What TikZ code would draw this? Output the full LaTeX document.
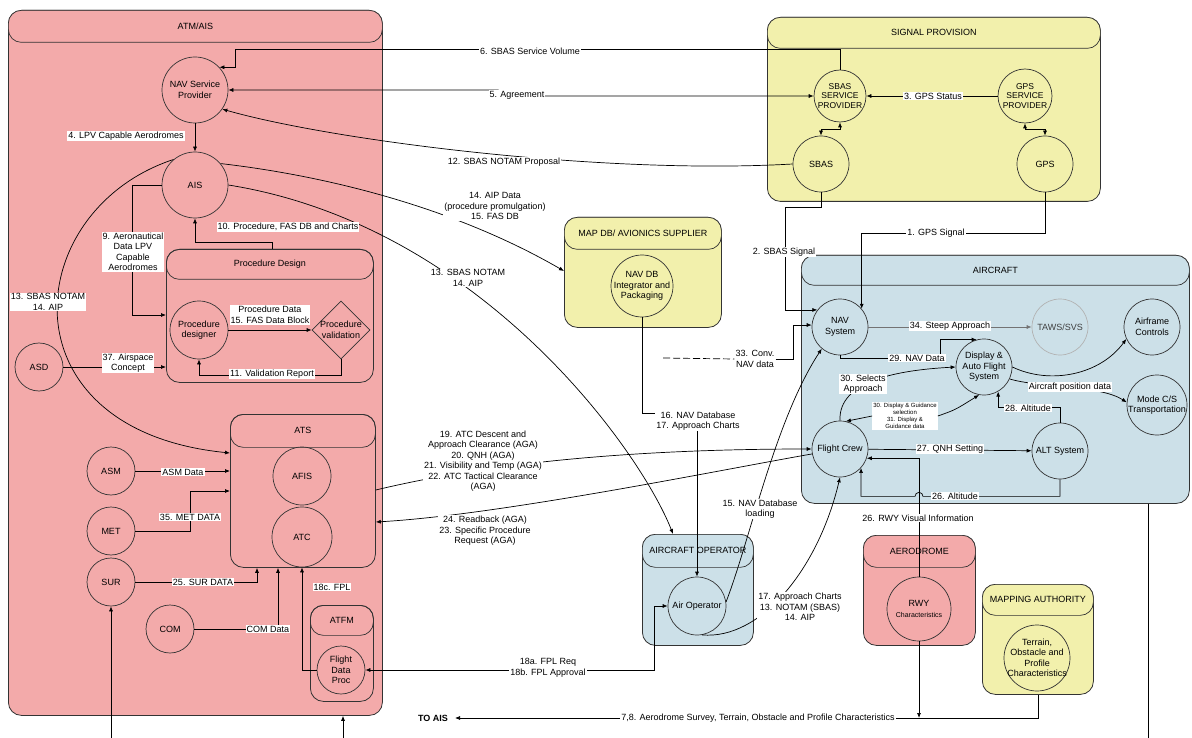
\documentclass[tikz,border=0pt]{standalone}
\usepackage{fontspec}
\setmainfont{Liberation Sans}
\usetikzlibrary{shapes.geometric,arrows.meta,calc}
\definecolor{redf}{RGB}{243,170,170}
\definecolor{yelf}{RGB}{242,240,172}
\definecolor{bluf}{RGB}{204,224,232}
\begin{document}
\begin{tikzpicture}[x=1pt,y=-1pt,
  font=\fontsize{9}{10.5}\selectfont,
  cont/.style={draw=black!80, line width=0.8pt, rounded corners=13pt, anchor=north west, inner sep=0pt},
  hdr/.style={draw=black!80, line width=0.7pt, rounded corners=13pt, anchor=north west, inner sep=0pt},
  circ/.style={draw=black!80, line width=0.7pt, circle, inner sep=0pt, minimum size=#1},
  ct/.style={align=center, inner sep=0pt},
  lab/.style={fill=white, inner sep=1pt, align=center},
  con/.style={draw=black, line width=0.7pt},
  >={Latex[length=5pt,width=4pt]}
]
\useasboundingbox[fill=white] (0,0) rectangle (1192,738);

% ---------- containers ----------
\node[cont, fill=redf, minimum width=374pt, minimum height=705pt] (atm) at (8,10) {};
\node[hdr, fill=redf, minimum width=374pt, minimum height=32pt] (atmh) at (8,10) {ATM/AIS};
\node[cont, minimum width=207pt, minimum height=133pt] (pd) at (166,249) {};
\node[hdr, minimum width=207pt, minimum height=30pt] (pdh) at (166,249) {Procedure Design};
\node[cont, minimum width=145pt, minimum height=153pt] (ats) at (230,414) {};
\node[hdr, minimum width=145pt, minimum height=33pt] (atsh) at (230,414) {ATS};
\node[cont, minimum width=63pt, minimum height=96pt] (atfm) at (310,605) {};
\node[hdr, minimum width=63pt, minimum height=30pt] (atfmh) at (310,605) {ATFM};

\node[cont, fill=yelf, minimum width=333pt, minimum height=184pt] (sig) at (767,17) {};
\node[hdr, fill=yelf, minimum width=333pt, minimum height=31pt] (sigh) at (767,17) {SIGNAL PROVISION};
\node[cont, fill=yelf, minimum width=157pt, minimum height=110pt] (mapdb) at (564,217) {};
\node[hdr, fill=yelf, minimum width=157pt, minimum height=32pt] (mapdbh) at (564,217) {MAP DB/ AVIONICS SUPPLIER};
\node[cont, fill=bluf, minimum width=388pt, minimum height=248pt] (acft) at (801,255) {};
\node[hdr, fill=bluf, minimum width=388pt, minimum height=30pt] (acfth) at (801,255) {AIRCRAFT};
\node[cont, fill=bluf, minimum width=111pt, minimum height=111pt] (acop) at (642,534) {};
\node[hdr, fill=bluf, minimum width=111pt, minimum height=33pt] (acoph) at (642,534) {AIRCRAFT OPERATOR};
\node[cont, fill=redf, minimum width=112pt, minimum height=110pt] (aero) at (863,535) {};
\node[hdr, fill=redf, minimum width=112pt, minimum height=32pt] (aeroh) at (863,535) {AERODROME};
\node[cont, fill=yelf, minimum width=111pt, minimum height=110pt] (mapa) at (982,584) {};
\node[hdr, fill=yelf, minimum width=111pt, minimum height=31pt] (mapah) at (982,584) {MAPPING AUTHORITY};

% ---------- processes ----------
\node[circ=66pt, label={[ct]center:{NAV Service\\Provider}}] (navsp) at (195,90) {};
\node[circ=66pt, label={[ct]center:AIS}] (ais) at (195,185) {};
\node[circ=58pt, label={[ct]center:{Procedure\\designer}}] (pdes) at (199,330) {};
\node[draw=black!80, line width=0.7pt, diamond, inner sep=0pt, minimum width=58pt, minimum height=58pt, label={[ct]center:{Procedure\\validation}}] (pval) at (341,330) {};
\node[circ=48pt, label={[ct]center:ASD}] (asd) at (39,367) {};
\node[circ=48pt, label={[ct]center:ASM}] (asm) at (111,471) {};
\node[circ=48pt, label={[ct]center:MET}] (met) at (111,531) {};
\node[circ=48pt, label={[ct]center:SUR}] (sur) at (111,582) {};
\node[circ=48pt, label={[ct]center:COM}] (com) at (170,629) {};
\node[circ=58pt, label={[ct]center:AFIS}] (afis) at (302,476) {};
\node[circ=60pt, label={[ct]center:ATC}] (atc) at (302,537) {};
\node[circ=48pt, label={[ct]center:{Flight\\Data\\Proc}}] (fdp) at (341,670) {};
\node[circ=52pt, label={[ct,font=\fontsize{8.5}{9.5}\selectfont]center:{SBAS\\SERVICE\\PROVIDER}}] (sbassp) at (840,96) {};
\node[circ=54pt, label={[ct,font=\fontsize{8.5}{9.5}\selectfont]center:{GPS\\SERVICE\\PROVIDER}}] (gpssp) at (1025,96) {};
\node[circ=56pt, label={[ct]center:SBAS}] (sbas) at (821,164) {};
\node[circ=56pt, label={[ct]center:GPS}] (gps) at (1045,164) {};
\node[circ=62pt, label={[ct]center:{NAV DB\\Integrator and\\Packaging}}] (navdb) at (642,286) {};
\node[circ=56pt, label={[ct]center:{NAV\\System}}] (navsys) at (840,327) {};
\node[circ=56pt, draw=gray!60, label={[ct,text=black!75]center:TAWS/SVS}] (taws) at (1060,327) {};
\node[circ=56pt, label={[ct]center:{Airframe\\Controls}}] (afc) at (1152,327) {};
\node[circ=56pt, label={[ct]center:{Display \&\\Auto Flight\\System}}] (disp) at (984,367) {};
\node[circ=60pt, label={[ct]center:{Mode C/S\\Transportation}}] (mode) at (1157,405) {};
\node[circ=56pt, label={[ct]center:Flight Crew}] (crew) at (840,449) {};
\node[circ=56pt, label={[ct]center:ALT System}] (alt) at (1060,451) {};
\node[circ=58pt, label={[ct]center:Air Operator}] (airop) at (697,606) {};
\node[circ=64pt, label={[ct]center:{RWY\\{\fontsize{7}{8}\selectfont Characteristics}}}] (rwy) at (919,609) {};
\node[circ=66pt, label={[ct]center:{Terrain,\\Obstacle and\\Profile\\Characteristics}}] (terr) at (1037,658) {};

% label nodes used as connector ends
\node[lab] (l33) at (755,359) {33. Conv.\\NAV data};
\node[lab, font=\fontsize{6}{7}\selectfont] (l3031) at (905,416) {30. Display \& Guidance\\selection\\31. Display \&\\Guidance data};
\coordinate (c33) at (663,358);
\coordinate (toais) at (455,718);
\coordinate (b1) at (111,738);
\coordinate (b2) at (343,738);
\coordinate (b3) at (1148,738);

% ---------- connectors ----------
\draw[con,->] (navsp) -- (ais);
\draw[con,->] ($(pd.north west)+(106,0)$) |- ($(ais.south)+(0,24)$) -- (ais.south);
\draw[con,->] (ais.west) -- ++(-29,0) |- ($(pd.north west)+(0,66)$);
\draw[con,->] (asd) -- (pd.west |- asd);
\draw[con,->] (pdes) -- (pval);
\draw[con,->] (pval.south) -- ++(0,16) -| (pdes.south);
\draw[con,->] (ais.130) .. controls (20,210) and (0,430) .. ($(ats.north west)+(0,39)$);
\draw[con,->] (asm) -- (asm -| ats.west);
\draw[con,->] (met.east) -- ++(55,0) |- ($(ats.north west)+(0,77)$);
\draw[con,->] (sur.east) -| ($(ats.south west)+(27,0)$);
\draw[con,->] (com.east) -| ($(ats.south west)+(48,0)$);
\draw[con,->] (fdp.west) -| (atc.south);
\draw[con,<->] (fdp.east) -| ($(airop.west)+(-13,0)$) -- (airop.west);
\draw[con,->] (b1) -- (sur.south);
\draw[con,->] (b2) -- (b2 |- atm.south);
\draw[con] (b3 |- acft.south) -- (b3);

\draw[con,->] (sbassp.north) |- ($(navsp.north)+(40,-7)$) |- (navsp.43);
\draw[con,<->] (navsp.east) -- ($(navsp.east)+(270,0)$) -- ($(sbassp.west)+(-316,0)$) -- (sbassp.west);
\draw[con,<-] (navsp.-35) .. controls (330,140) and (600,175) .. (sbas.west);
\draw[con,->] (gpssp) -- (sbassp);
\draw[con,<->] (sbas.north) -- ++(0,-6) -| (sbassp.south);
\draw[con,<->] (gps.north) -- ++(0,-6) -| (gpssp.south);
\draw[con,->] (sbas.south) -- ++(0,15) -| ($(navsys.143)+(-32,0)$) -- (navsys.143);
\draw[con,->] (gps.south) -- ++(0,41) -| (navsys.40);

\draw[con,->] (ais.40) .. controls (320,175) and (450,205) .. ($(mapdb.north west)+(0,54)$);
\draw[con,->] (ais.east) .. controls (480,225) and (640,450) .. ($(acop.north west)+(31,0)$);
\draw[con,->] (navdb.south) -- ++(0,96) -| (airop.north);
\draw[con,->] (airop.8) .. controls (750,540) and (775,420) .. (navsys.230);
\draw[con,->] (airop.-80) .. controls (760,640) and (818,570) .. (crew.south);
\draw[con,->] ($(ats.north east)+(0,76)$) .. controls (480,465) and (620,449) .. (crew.west);
\draw[con,->] (crew.190) .. controls (720,470) and (500,515) .. ($(ats.north east)+(0,108)$);

\draw[con, dash pattern=on 7pt off 3pt] (c33) -- (l33.west);
\draw[con,->] (l33.east) -- ++(18,0) |- (navsys.176);
\draw[con,->,draw=black!55] (navsys) -- (taws);
\draw[con,->] (navsys.south) |- (940,358) |- (disp.105);
\draw[con,->] (disp.east) .. controls (1050,385) and (1100,375) .. (afc.205);
\draw[con,->] (disp.-25) .. controls (1040,388) and (1100,385) .. (mode.175);
\draw[con,->] (crew.north) .. controls (838,380) and (900,370) .. (disp.west);
\draw[con,->] (l3031.east) .. controls (955,410) .. (disp.260);
\draw[con,->] (l3031.west) -- (crew.78);
\draw[con,->] (alt.north) -- ++(0,-15) -| (disp.-60);
\draw[con,->] (crew) -- (alt);
\draw[con,->] (alt.south) -- ++(0,17) -- ($(rwy.north |- alt.south)+(4,17)$) arc[start angle=0,end angle=180,radius=4pt] -- ($(crew.-42 |- alt.south)+(0,17)$) -- (crew.-42);
\draw[con,->] (rwy.north) |- (crew.-19);
\draw[con,->] (rwy.south) -- (rwy.south |- toais);
\draw[con,->] (mapa.south) |- (toais);

% ---------- connector labels ----------
\node[lab] (l4) at (126,136) {4. LPV Capable Aerodromes};
\node[lab] (l10) at (288,227) {10. Procedure, FAS DB and Charts};
\node[lab] (l9) at (133,252) {9. Aeronautical\\Data LPV\\Capable\\Aerodromes};
\node[lab] (l13a) at (48,302) {13. SBAS NOTAM\\14. AIP};
\node[lab] (l37) at (128,363) {37. Airspace\\Concept};
\node[lab] (lpdat) at (270,315) {Procedure Data\\15. FAS Data Block};
\node[lab] (l11) at (272,374) {11. Validation Report};
\node[lab] (lasm) at (183,472) {ASM Data};
\node[lab] (l35) at (190,517) {35. MET DATA};
\node[lab] (l25) at (203,582) {25. SUR DATA};
\node[lab] (lcom) at (268,629) {COM Data};
\node[lab] (l18c) at (332,587) {18c. FPL};
\node[lab] (l18ab) at (548,668) {18a. FPL Req\\18b. FPL Approval};
\node[lab] (l6) at (530,51) {6. SBAS Service Volume};
\node[lab] (l5) at (517,95) {5. Agreement};
\node[lab] (l12) at (504,162) {12. SBAS NOTAM Proposal};
\node[lab] (l14) at (495,206) {14. AIP Data\\(procedure promulgation)\\15. FAS DB};
\node[lab] (l13b) at (468,278) {13. SBAS NOTAM\\14. AIP};
\node[lab] (l3) at (933,96) {3. GPS Status};
\node[lab] (l2) at (784,252) {2. SBAS Signal};
\node[lab] (l1) at (936,233) {1. GPS Signal};
\node[lab] (l16) at (698,421) {16. NAV Database\\17. Approach Charts};
\node[lab] (l15) at (760,509) {15. NAV Database\\loading};
\node[lab] (l17) at (800,607) {17. Approach Charts\\13. NOTAM (SBAS)\\14. AIP};
\node[lab] (l19) at (483,461) {19. ATC Descent and\\Approach Clearance (AGA)\\20. QNH (AGA)\\21. Visibility and Temp (AGA)\\22. ATC Tactical Clearance\\(AGA)};
\node[lab] (l24) at (485,531) {24. Readback (AGA)\\23. Specific Procedure\\Request (AGA)};
\node[lab] (l34) at (950,326) {34. Steep Approach};
\node[lab] (l29) at (917,358) {29. NAV Data};
\node[lab] (lpos) at (1070,387) {Aircraft position data};
\node[lab] (l30) at (863,384) {30. Selects\\Approach};
\node[lab] (l28) at (1028,408) {28. Altitude};
\node[lab] (l27) at (950,449) {27. QNH Setting};
\node[lab] (l26a) at (955,496) {26. Altitude};
\node[lab] (l26b) at (918,518) {26. RWY Visual Information};
\node[lab] (l78) at (758,718) {7,8. Aerodrome Survey, Terrain, Obstacle and Profile Characteristics};
\node[font=\bfseries\fontsize{9}{10.5}\selectfont] (toaistxt) at (433,718) {TO AIS};
\end{tikzpicture}
\end{document}
